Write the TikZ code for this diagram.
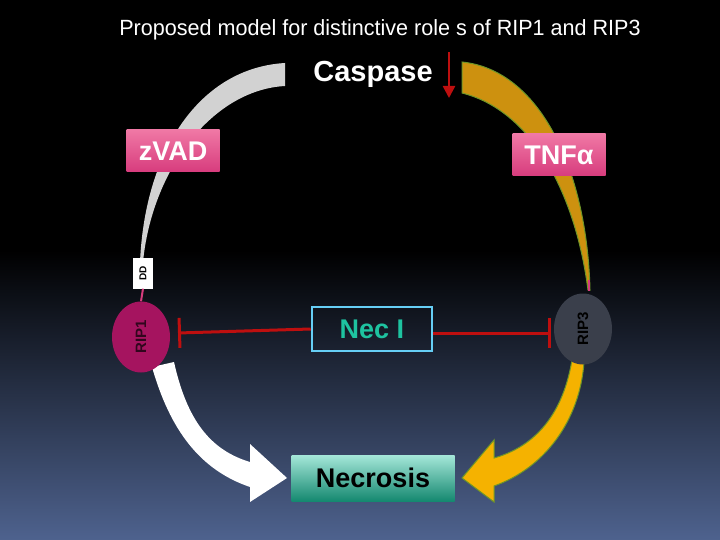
\documentclass[tikz,border=0pt]{standalone}
\usepackage{fontspec}
\setmainfont{Liberation Sans}
\usetikzlibrary{shapes.geometric,arrows.meta}
\definecolor{bgbot}{RGB}{78,98,142}
\definecolor{pinkA}{RGB}{240,120,165}
\definecolor{pinkB}{RGB}{215,60,125}
\definecolor{ripone}{RGB}{165,20,95}
\definecolor{ripthree}{RGB}{58,63,75}
\definecolor{gold}{RGB}{205,145,15}
\definecolor{ambr}{RGB}{245,178,0}
\definecolor{edgegreen}{RGB}{110,150,40}
\definecolor{inh}{RGB}{190,15,15}
\definecolor{teal}{RGB}{30,195,160}
\tikzset{
 lab/.style={rectangle,minimum width=93pt,minimum height=42pt,top color=pinkA,bottom color=pinkB,text=white,font=\bfseries\fontsize{27}{29}\selectfont,inner sep=0pt},
 rip/.style={ellipse,minimum width=58pt,minimum height=71pt,inner sep=0pt,font=\bfseries\fontsize{15}{16}\selectfont},
 inhib/.style={draw=inh,line width=3pt,-{Bar[width=30pt,line width=3pt]}},
}
\begin{document}
\begin{tikzpicture}[x=1pt,y=-1pt]
\useasboundingbox (0,0) rectangle (720,540);
\fill[black] (0,0) rectangle (720,251);
\shade[top color=black,bottom color=bgbot] (0,250) rectangle (720,540);
\node[text=white,font=\fontsize{22}{24}\selectfont,xscale=0.98] (title) at (380,30) {Proposed model for distinctive role s of RIP1 and RIP3};
\node[text=white,font=\bfseries\fontsize{29}{32}\selectfont] (casp) at (373,74) {Caspase};
\coordinate (ca1) at (449,52); \coordinate (ca2) at (449,98);
\draw[inh,line width=2.5pt,-{Triangle[length=12pt,width=12pt]}] (ca1) -- (ca2);
% grey arc
\fill[gray!35] (285,63) .. controls (200,68) and (145,150) .. (140,262) -- (143,262) .. controls (152,170) and (212,90) .. (285,86) -- cycle;
% gold arc
\filldraw[fill=gold,draw=edgegreen,line width=1pt] (462,62) .. controls (540,70) and (587,170) .. (590,290) -- (588,290) .. controls (575,190) and (530,110) .. (462,93) -- cycle;
\node[lab] (zvad) at (173,151) {zVAD};
\node[lab] (tnf) at (559,155) {TNFα};
% arrows to necrosis
\fill[white] (152,367) .. controls (170,430) and (200,470) .. (250,487) -- (250,502) -- (287,478) -- (250,444) -- (250,462) .. controls (210,450) and (187,420) .. (174,362) -- cycle;
\filldraw[fill=ambr,draw=edgegreen,line width=1pt] (572,360) .. controls (562,420) and (530,448) .. (494,458) -- (494,440) -- (462,478) -- (494,502) -- (494,486) .. controls (545,468) and (580,420) .. (584,362) -- cycle;
% DD
\node[fill=white,minimum width=31pt,minimum height=20pt,inner sep=0pt,rotate=90,font=\bfseries\fontsize{10}{11}\selectfont] (dd) at (143,273) {DD};
\node[rip,fill=ripone,text=black!70!ripone] (rip1) at (141,337) {\rotatebox{90}{RIP1}};
\node[rip,fill=ripthree,text=black] (rip3) at (583,329) {\rotatebox{90}{RIP3}};
\draw[pinkB,line width=2pt] (dd.west) -- (rip1.north);
\coordinate (r3top) at (589,280);
\draw[pinkB,line width=2pt] (r3top) -- ([yshift=2pt]rip3.north -| r3top);
\node[draw=cyan!60!white,line width=2.5pt,minimum width=120pt,minimum height=44pt,inner sep=0pt,text=teal,font=\bfseries\fontsize{27}{30}\selectfont] (nec) at (372,329) {Nec I};
\coordinate (b1) at (178,333); \coordinate (b3) at (551,333);
\draw[inhib] (nec.west) -- (b1);
\draw[inhib] (nec.east |- b3) -- (b3);
\node[top color=teal!40!white,bottom color=teal!70!black,minimum width=163pt,minimum height=46pt,inner sep=0pt,font=\bfseries\fontsize{27}{30}\selectfont] (necro) at (373,478) {Necrosis};
\end{tikzpicture}
\end{document}
